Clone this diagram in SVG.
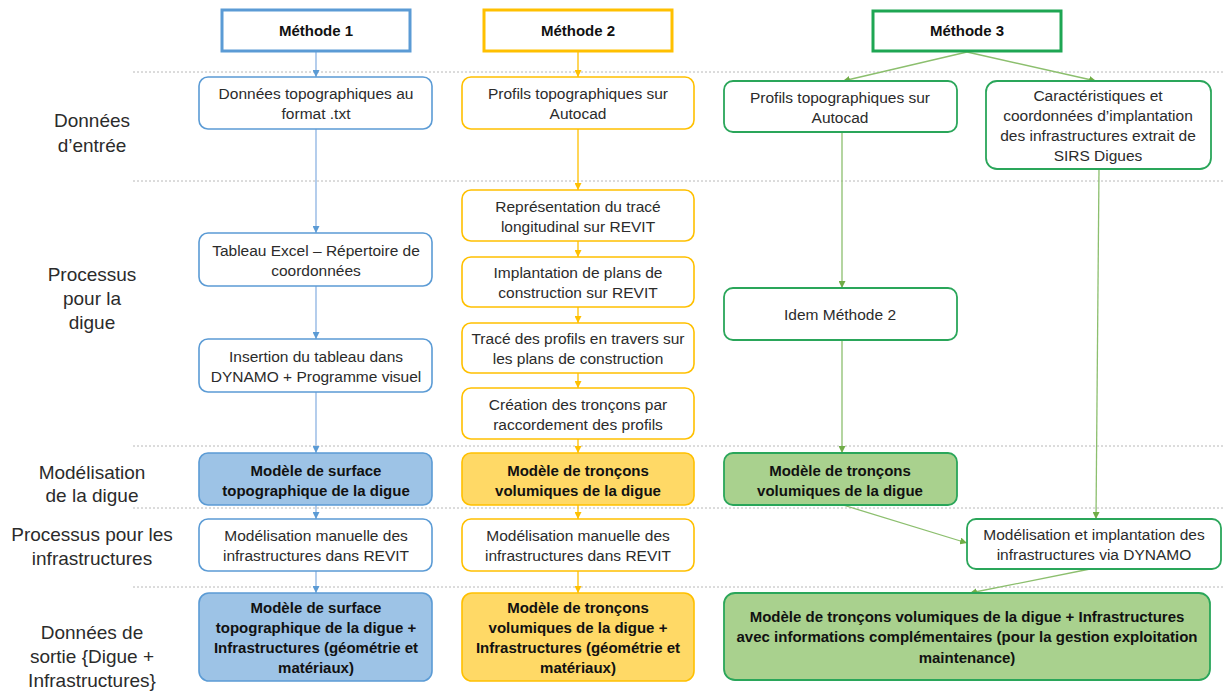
<svg xmlns="http://www.w3.org/2000/svg" width="1224" height="695" viewBox="0 0 1224 695">
<defs>
<style>
text{font-family:"Liberation Sans",Arial,sans-serif;text-anchor:middle;fill:#2b2b2b}
.lbl{font-size:19px}
.t{font-size:15.5px}
.b{font-size:15px;font-weight:bold;fill:#111}
.h{font-size:15px;font-weight:bold;fill:#111}
.sep{stroke:#b8b8b8;stroke-width:1;stroke-dasharray:2 2;fill:none}
.hb{fill:#fff;stroke:#5b9bd5;stroke-width:3}
.hy{fill:#fff;stroke:#ffc000;stroke-width:3}
.hg{fill:#fff;stroke:#1ea653;stroke-width:3}
.nb{fill:#fff;stroke:#5b9bd5;stroke-width:1.6}
.ny{fill:#fff;stroke:#ffc000;stroke-width:1.6}
.ng{fill:#fff;stroke:#2aa65a;stroke-width:1.8}
.fb{fill:#9dc3e6;stroke:#5b9bd5;stroke-width:1.6}
.fy{fill:#ffd966;stroke:#ffc000;stroke-width:1.6}
.fg{fill:#a9d18e;stroke:#2aa65a;stroke-width:1.8}
.cb{stroke:#8db3e2;stroke-width:1.3;fill:none;marker-end:url(#ab)}
.cy{stroke:#ffc000;stroke-width:1.3;fill:none;marker-end:url(#ay)}
.cg{stroke:#8cbf6e;stroke-width:1.3;fill:none;marker-end:url(#ag)}
</style>
<marker id="ab" viewBox="0 0 10 10" refX="10" refY="5" markerWidth="7" markerHeight="7" markerUnits="userSpaceOnUse" orient="auto"><path d="M0,0 L10,5 L0,10 z" fill="#5b9bd5"/></marker>
<marker id="ay" viewBox="0 0 10 10" refX="10" refY="5" markerWidth="7" markerHeight="7" markerUnits="userSpaceOnUse" orient="auto"><path d="M0,0 L10,5 L0,10 z" fill="#ffc000"/></marker>
<marker id="ag" viewBox="0 0 10 10" refX="10" refY="5" markerWidth="7" markerHeight="7" markerUnits="userSpaceOnUse" orient="auto"><path d="M0,0 L10,5 L0,10 z" fill="#70ad47"/></marker>
</defs>
<rect width="1224" height="695" fill="#fff"/>

<g id="separators">
<line class="sep" x1="133" y1="72" x2="1224" y2="72"/>
<line class="sep" x1="133" y1="181" x2="1224" y2="181"/>
<line class="sep" x1="133" y1="446" x2="1224" y2="446"/>
<line class="sep" x1="133" y1="508" x2="1224" y2="508"/>
<line class="sep" x1="133" y1="587" x2="1224" y2="587"/>
</g>

<g id="row-labels">
<text class="lbl" x="92" y="127">Données</text>
<text class="lbl" x="92" y="152">d’entrée</text>
<text class="lbl" x="92" y="281">Processus</text>
<text class="lbl" x="92" y="305">pour la</text>
<text class="lbl" x="92" y="329">digue</text>
<text class="lbl" x="92" y="479">Modélisation</text>
<text class="lbl" x="92" y="502">de la digue</text>
<text class="lbl" x="92" y="541">Processus pour les</text>
<text class="lbl" x="92" y="565">infrastructures</text>
<text class="lbl" x="92" y="639">Données de</text>
<text class="lbl" x="92" y="663">sortie {Digue +</text>
<text class="lbl" x="92" y="687">Infrastructures}</text>
</g>

<g id="connectors">
<line class="cb" x1="316" y1="52" x2="316" y2="77"/>
<line class="cb" x1="316" y1="129" x2="316" y2="233"/>
<line class="cb" x1="316" y1="286" x2="316" y2="339"/>
<line class="cb" x1="316" y1="392" x2="316" y2="453"/>
<line class="cb" x1="316" y1="505" x2="316" y2="519"/>
<line class="cb" x1="316" y1="571" x2="316" y2="593"/>
<line class="cy" x1="578" y1="52" x2="578" y2="77"/>
<line class="cy" x1="578" y1="129" x2="578" y2="190"/>
<line class="cy" x1="578" y1="241" x2="578" y2="257"/>
<line class="cy" x1="578" y1="307" x2="578" y2="323"/>
<line class="cy" x1="578" y1="373" x2="578" y2="388"/>
<line class="cy" x1="578" y1="439" x2="578" y2="453"/>
<line class="cy" x1="578" y1="505" x2="578" y2="519"/>
<line class="cy" x1="578" y1="571" x2="578" y2="593"/>
<line class="cg" x1="967" y1="52" x2="843" y2="81"/>
<line class="cg" x1="967" y1="52" x2="1096" y2="81"/>
<line class="cg" x1="842" y1="132" x2="842" y2="288"/>
<line class="cg" x1="842" y1="340" x2="842" y2="453"/>
<line class="cg" x1="1099" y1="169" x2="1096" y2="519"/>
<line class="cg" x1="843" y1="505" x2="967" y2="543"/>
<line class="cg" x1="1090" y1="569" x2="970" y2="593"/>
</g>

<g id="m1-header"><rect class="hb" x="222" y="10" width="188" height="41"/><text class="h" x="316" y="36">Méthode 1</text></g>
<g id="m2-header"><rect class="hy" x="484" y="10" width="188" height="41"/><text class="h" x="578" y="36">Méthode 2</text></g>
<g id="m3-header"><rect class="hg" x="873" y="11" width="188" height="40"/><text class="h" x="967" y="36">Méthode 3</text></g>

<g id="m1-input"><rect class="nb" x="199" y="77" width="233" height="52" rx="9"/><text class="t" x="316" y="99">Données topographiques au</text><text class="t" x="316" y="119">format .txt</text></g>
<g id="m1-excel"><rect class="nb" x="199" y="233" width="233" height="53" rx="9"/><text class="t" x="316" y="256">Tableau Excel – Répertoire de</text><text class="t" x="316" y="276">coordonnées</text></g>
<g id="m1-dynamo"><rect class="nb" x="199" y="339" width="233" height="53" rx="9"/><text class="t" x="316" y="362">Insertion du tableau dans</text><text class="t" x="316" y="382">DYNAMO + Programme visuel</text></g>
<g id="m1-model"><rect class="fb" x="199" y="453" width="233" height="52" rx="9"/><text class="b" x="316" y="476">Modèle de surface</text><text class="b" x="316" y="496">topographique de la digue</text></g>
<g id="m1-infra"><rect class="nb" x="199" y="519" width="233" height="52" rx="9"/><text class="t" x="316" y="541">Modélisation manuelle des</text><text class="t" x="316" y="561">infrastructures dans REVIT</text></g>
<g id="m1-output"><rect class="fb" x="199" y="593" width="233" height="88" rx="10"/><text class="b" x="316" y="613">Modèle de surface</text><text class="b" x="316" y="633">topographique de la digue +</text><text class="b" x="316" y="653">Infrastructures (géométrie et</text><text class="b" x="316" y="673">matériaux)</text></g>

<g id="m2-input"><rect class="ny" x="462" y="77" width="232" height="52" rx="9"/><text class="t" x="578" y="99">Profils topographiques sur</text><text class="t" x="578" y="119">Autocad</text></g>
<g id="m2-trace"><rect class="ny" x="462" y="190" width="232" height="51" rx="9"/><text class="t" x="578" y="212">Représentation du tracé</text><text class="t" x="578" y="232">longitudinal sur REVIT</text></g>
<g id="m2-plans"><rect class="ny" x="462" y="257" width="232" height="50" rx="9"/><text class="t" x="578" y="278">Implantation de plans de</text><text class="t" x="578" y="298">construction sur REVIT</text></g>
<g id="m2-profils"><rect class="ny" x="462" y="323" width="232" height="50" rx="9"/><text class="t" x="578" y="344">Tracé des profils en travers sur</text><text class="t" x="578" y="364">les plans de construction</text></g>
<g id="m2-troncons"><rect class="ny" x="462" y="388" width="232" height="51" rx="9"/><text class="t" x="578" y="410">Création des tronçons par</text><text class="t" x="578" y="430">raccordement des profils</text></g>
<g id="m2-model"><rect class="fy" x="462" y="453" width="232" height="52" rx="9"/><text class="b" x="578" y="476">Modèle de tronçons</text><text class="b" x="578" y="496">volumiques de la digue</text></g>
<g id="m2-infra"><rect class="ny" x="462" y="519" width="232" height="52" rx="9"/><text class="t" x="578" y="541">Modélisation manuelle des</text><text class="t" x="578" y="561">infrastructures dans REVIT</text></g>
<g id="m2-output"><rect class="fy" x="462" y="593" width="232" height="88" rx="10"/><text class="b" x="578" y="613">Modèle de tronçons</text><text class="b" x="578" y="633">volumiques de la digue +</text><text class="b" x="578" y="653">Infrastructures (géométrie et</text><text class="b" x="578" y="673">matériaux)</text></g>

<g id="m3-input"><rect class="ng" x="724" y="81" width="233" height="51" rx="9"/><text class="t" x="840" y="103">Profils topographiques sur</text><text class="t" x="840" y="123">Autocad</text></g>
<g id="m3-sirs"><rect class="ng" x="986" y="81" width="225" height="88" rx="11"/><text class="t" x="1098" y="101">Caractéristiques et</text><text class="t" x="1098" y="121">coordonnées d’implantation</text><text class="t" x="1098" y="141">des infrastructures extrait de</text><text class="t" x="1098" y="161">SIRS Digues</text></g>
<g id="m3-idem"><rect class="ng" x="724" y="288" width="233" height="52" rx="9"/><text class="t" x="840" y="320">Idem Méthode 2</text></g>
<g id="m3-model"><rect class="fg" x="724" y="453" width="233" height="52" rx="9"/><text class="b" x="840" y="476">Modèle de tronçons</text><text class="b" x="840" y="496">volumiques de la digue</text></g>
<g id="m3-infra"><rect class="ng" x="967" y="519" width="254" height="50" rx="9"/><text class="t" x="1094" y="540">Modélisation et implantation des</text><text class="t" x="1094" y="560">infrastructures via DYNAMO</text></g>
<g id="m3-output"><rect class="fg" x="724" y="593" width="486" height="87" rx="11"/><text class="b" x="967" y="622">Modèle de tronçons volumiques de la digue + Infrastructures</text><text class="b" x="967" y="642">avec informations complémentaires (pour la gestion exploitation</text><text class="b" x="967" y="663">maintenance)</text></g>
</svg>
